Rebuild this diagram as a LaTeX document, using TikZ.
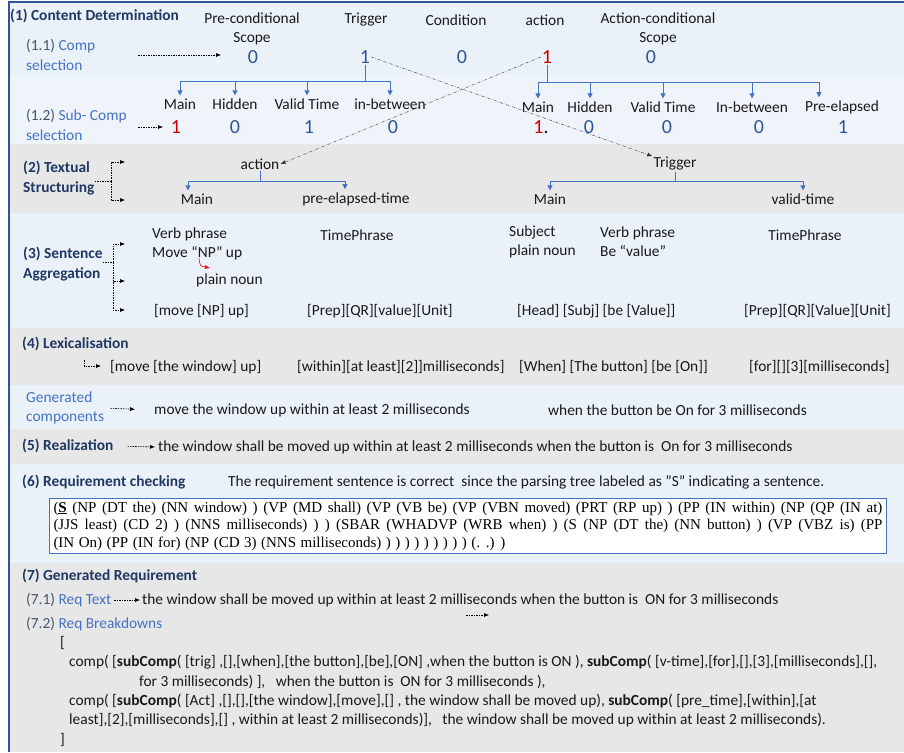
\documentclass[tikz,border=0pt]{standalone}
\usepackage{fontspec}
\setmainfont{Carlito}
\newfontfamily\treefont{Liberation Serif}
\usepackage{xcolor}
\usepackage{tikz}
\usetikzlibrary{arrows.meta}
\definecolor{bandblue}{RGB}{235,241,249}
\definecolor{bandblueb}{RGB}{239,244,251}
\definecolor{bandgray}{RGB}{231,231,231}
\definecolor{frameblue}{RGB}{47,85,151}
\definecolor{headnavy}{RGB}{31,56,100}
\definecolor{lblblue}{RGB}{68,114,196}
\definecolor{numblue}{RGB}{47,85,151}
\definecolor{numred}{RGB}{204,0,0}
\definecolor{slate}{RGB}{68,84,106}
\definecolor{txtdark}{RGB}{25,25,25}
\newcommand{\bodyfont}{\fontsize{15.4}{19.2}\selectfont}
\newcommand{\parsefont}{\treefont\fontsize{15}{17.5}\selectfont\spaceskip=0.3em plus 0.3em minus 0.05em\relax}

\begin{document}
\begin{tikzpicture}[x=1pt,y=-1pt,
                        head/.style={font=\bodyfont\bfseries, text=headnavy, anchor=west, inner sep=0pt, align=left},
                        lbl/.style={font=\bodyfont, text=lblblue, anchor=west, inner sep=0pt, align=left},
                        word/.style={font=\bodyfont, text=txtdark, inner sep=1pt, align=center},
                        lword/.style={word, anchor=west, align=left},
                        num/.style={font=\fontsize{20}{22}\selectfont, text=numblue, inner sep=1pt},
                        treeline/.style={draw=lblblue, line width=0.8pt, -{Triangle[length=5pt,width=5pt]}, shorten >=2pt},
                        dotarrow/.style={dash pattern=on 1.5pt off 1pt, line width=0.6pt, -{Latex[length=5pt,width=4pt]}},
                        crossline/.style={dash pattern=on 3pt off 1.5pt on 0.5pt off 1.5pt, line width=0.4pt, draw=black!80, -{Latex[length=5pt,width=4pt]}},
                        parsebox/.style={draw=lblblue, fill=white, line width=0.8pt, text width=829pt, inner xsep=4pt, inner ysep=3pt, align=justify, font=\parsefont}]
                        \useasboundingbox (0,0) rectangle (904,752);
                        \fill[white] (0,0) rectangle (904,752);
                        \fill[bandblue] (9,2) rectangle (904,75);
                        \fill[bandblueb] (9,75) rectangle (904,144);
                        \fill[bandgray] (9,144) rectangle (904,213);
                        \fill[bandblue] (9,213) rectangle (904,328);
                        \fill[bandgray] (9,328) rectangle (904,385);
                        \fill[bandblue] (9,385) rectangle (904,429);
                        \fill[bandgray] (9,429) rectangle (904,464);
                        \fill[bandblue] (9,464) rectangle (904,563);
                        \fill[bandgray] (9,563) rectangle (904,752);
                        \draw[frameblue, line width=1.3pt] (9,752) to (9,2) to (904,2);

                        \node[head] (cd) at (10,16) {(1) Content Determination};
                        \node[lbl] (csel) at (26,55) {{\color{slate}(1.1)} Comp\\selection};
                        \node[word] (hpre) at (252,29) {Pre-conditional\\Scope};
                        \node[word] (htrig) at (366,20) {Trigger};
                        \node[word] (hcond) at (456,20) {Condition};
                        \node[word] (hact) at (545,20) {action};
                        \node[word] (hacs) at (658,29) {Action-conditional\\Scope};
                        \node[num] (p0) at (253,57) {0};
                        \node[num] (t1) at (365,57) {1};
                        \node[num] (c0) at (462,57) {0};
                        \node[num, text=numred] (a1) at (547,57) {1};
                        \node[num] (ac0) at (651,57) {0};
                        \coordinate (s11) at (138,55);
                        \coordinate (e11) at (221,55);
                        \draw[dotarrow] (s11) to (e11);

                        \node[lbl] (ssel) at (26,125) {{\color{slate}(1.2)} Sub- Comp\\selection};
                        \coordinate (s12) at (138,127);
                        \coordinate (e12) at (163,127);
                        \draw[dotarrow] (s12) to (e12);
                        \node[word] (tmain) at (180,104) {Main};
                        \node[word] (thid) at (235,104) {Hidden};
                        \node[word] (tval) at (307,104) {Valid Time};
                        \node[word] (tin) at (390,104) {in-between};
                        \node[num, text=numred] (tv1) at (176,127) {1};
                        \node[num] (tv2) at (235,127) {0};
                        \node[num] (tv3) at (309,127) {1};
                        \node[num] (tv4) at (393,127) {0};
                        \coordinate (tbus) at (0,81);
                        \foreach \c in {tmain,thid,tval,tin}
                            \draw[treeline] (t1.south) to (t1.south |- tbus) -| (\c.north);

                        \node[word] (amain) at (538,107) {Main};
                        \node[word] (ahid) at (590,107) {Hidden};
                        \node[word] (aval) at (663,107) {Valid Time};
                        \node[word] (ain) at (752,107) {In-between};
                        \node[word] (apre) at (842,107) {Pre-elapsed};
                        \node[num] (av1) at (541,127) {{\color{numred}1}{\color{txtdark}.}};
                        \node[num] (av2) at (589,127) {0};
                        \node[num] (av3) at (667,127) {0};
                        \node[num] (av4) at (759,127) {0};
                        \node[num] (av5) at (843,127) {1};
                        \coordinate (abus) at (0,82);
                        \foreach \c in {amain,ahid,aval,ain}
                            \draw[treeline] (a1.south) to (a1.south |- abus) -| (\c.north);
                        \draw[treeline] (a1.south) to (a1.south |- abus) -| ([xshift=-23pt]apre.north);

                        \node[head] (ts) at (23,178) {(2) Textual\\Structuring};
                        \coordinate (tsk) at (111,181);
                        \coordinate (tsae) at (125,162);
                        \coordinate (tsbe) at (125,200);
                        \draw[dash pattern=on 1.5pt off 1pt, line width=0.6pt] (ts.east |- tsk) to (tsk);
                        \draw[dotarrow] (tsk) |- (tsae);
                        \draw[dotarrow] (tsk) |- (tsbe);
                        \node[word] (act2) at (260,164) {action};
                        \node[word] (amain2) at (197,199) {Main};
                        \node[word] (apet) at (356,199) {pre-elapsed-time};
                        \coordinate (bus2) at (0,181);
                        \draw[treeline] (act2.south) to (act2.south |- bus2) -| ([xshift=-9pt]amain2.north);
                        \draw[treeline] (act2.south) to (act2.south |- bus2) -| ([xshift=-11pt]apet.north);
                        \node[word] (trig2) at (675,164) {Trigger};
                        \node[word] (tmain2) at (550,199) {Main};
                        \node[word] (tvt) at (803,199) {valid-time};
                        \draw[treeline] (trig2.south) to (trig2.south |- bus2) -| (tmain2.north);
                        \draw[treeline] (trig2.south) to (trig2.south |- bus2) -| (tvt.north);
                        \draw[crossline] (t1.east) to (trig2.north west);
                        \draw[crossline] (a1.west) to (act2.east);

                        \node[head] (sa) at (23,264) {(3) Sentence\\Aggregation};
                        \coordinate (sak) at (113,262);
                        \coordinate (sae1) at (125,244);
                        \coordinate (sae2) at (125,281);
                        \coordinate (sae3) at (125,310);
                        \draw[dash pattern=on 1.5pt off 1pt, line width=0.6pt] (sa.east |- sak) to (sak);
                        \draw[dotarrow] (sak) |- (sae1);
                        \draw[dotarrow] (sak) |- (sae2);
                        \draw[dotarrow] (sak) |- (sae3);
                        \node[lword] (vp1) at (151,244) {Verb phrase\\Move “NP” up};
                        \node[lword] (pn1) at (195,280) {plain noun};
                        \node[lword] (mnp) at (153,311) {[move [NP] up]};
                        \node[word] (tp1) at (357,235) {TimePhrase};
                        \node[lword] (pq1) at (306,311) {[Prep][QR][value][Unit]};
                        \node[lword] (subj) at (508,242) {Subject\\plain noun};
                        \node[lword] (vp2) at (599,242) {Verb phrase\\Be “value”};
                        \node[word] (tp2) at (805,235) {TimePhrase};
                        \node[lword] (hsb) at (516,311) {[Head] [Subj] [be [Value]]};
                        \node[lword] (pq2) at (743,311) {[Prep][QR][Value][Unit]};
                        \coordinate (npc) at (199,258);
                        \coordinate (npe) at (210,268);
                        \draw[red, line width=0.6pt, -{Latex[length=5pt,width=4pt]}] (npc) .. controls (200,266) .. (npe);

                        \node[head] (lex) at (22,344) {(4) Lexicalisation};
                        \coordinate (lxa) at (84,360);
                        \coordinate (lxb) at (101,366);
                        \draw[dotarrow] (lxa) |- (lxb);
                        \node[lword] (lx1) at (109,367) {[move [the window] up]};
                        \node[lword] (lx2) at (296,367) {[within][at least][2]]milliseconds]};
                        \node[lword] (lx3) at (518,367) {[When] [The button] [be [On]]};
                        \node[lword] (lx4) at (748,367) {[for][][3][milliseconds]};

                        \node[lbl] (gc) at (26,408) {Generated\\components};
                        \node[lword] (gc1) at (153,410) {move the window up within at least 2 milliseconds};
                        \node[lword] (gc2) at (547,410) {when the button be On for 3 milliseconds};
                        \draw[dotarrow, shorten <=6pt, shorten >=18pt] (gc.east) to (gc1.west);

                        \node[head] (rl) at (22,446) {(5) Realization};
                        \node[lword] (rl1) at (157,447) {the window shall be moved up within at least 2 milliseconds when the button is~ On for 3 milliseconds};
                        \draw[dotarrow, shorten <=14pt, shorten >=2pt] (rl.east) to (rl1.west);

                        \node[head] (rc) at (22,482) {(6) Requirement checking};
                        \node[lword] (rc1) at (227,482) {The requirement sentence is correct~ since the parsing tree labeled as ”S” indicating a sentence.};
                        \node[parsebox] (pt) at (468,526) {(\textbf{\underline{S}} (NP (DT the) (NN window) ) (VP (MD shall) (VP (VB be) (VP (VBN moved) (PRT (RP up) ) (PP (IN within) (NP (QP (IN at)\linebreak (JJS least) (CD 2) ) (NNS milliseconds) ) ) (SBAR (WHADVP (WRB when) ) (S (NP (DT the) (NN button) ) (VP (VBZ is) (PP\linebreak (IN On) (PP (IN for) (NP (CD 3) (NNS milliseconds) ) ) ) ) ) ) ) ) ) (. .) )};

                        \node[head] (gr) at (22,576) {(7) Generated Requirement};
                        \node[lbl] (rt) at (26,600) {{\color{slate}(7.1)} Req Text};
                        \node[lword] (rt1) at (141,600) {the window shall be moved up within at least 2 milliseconds when the button is~ ON for 3 milliseconds};
                        \draw[dotarrow, shorten <=3pt, shorten >=1pt] (rt.east) to (rt1.west);
                        \coordinate (sa1) at (466,615);
                        \coordinate (sa2) at (489,615);
                        \draw[dotarrow] (sa1) to (sa2);
                        \node[lbl] (rb) at (26,624) {{\color{slate}(7.2)} Req Breakdowns};
                        \node[lword] (br1) at (59,643) {[};
                        \node[lword] (cp1) at (68,662) {comp( [\textbf{subComp}( [trig] ,[],[when],[the button],[be],[ON] ,when the button is ON ), \textbf{subComp}( [v-time],[for],[],[3],[milliseconds],[],};
                        \node[lword] (cp2) at (138,682) {for 3 milliseconds) ],~~ when the button is~ ON for 3 milliseconds ),};
                        \node[lword] (cp3) at (68,701) {comp( [\textbf{subComp}( [Act] ,[],[],[the window],[move],[] , the window shall be moved up), \textbf{subComp}( [pre\_time],[within],[at};
                        \node[lword] (cp4) at (68,720) {least],[2],[milliseconds],[] , within at least 2 milliseconds)],~~ the window shall be moved up within at least 2 milliseconds).};
                        \node[lword] (br2) at (59,740) {]};
                    \end{tikzpicture}
\end{document}
